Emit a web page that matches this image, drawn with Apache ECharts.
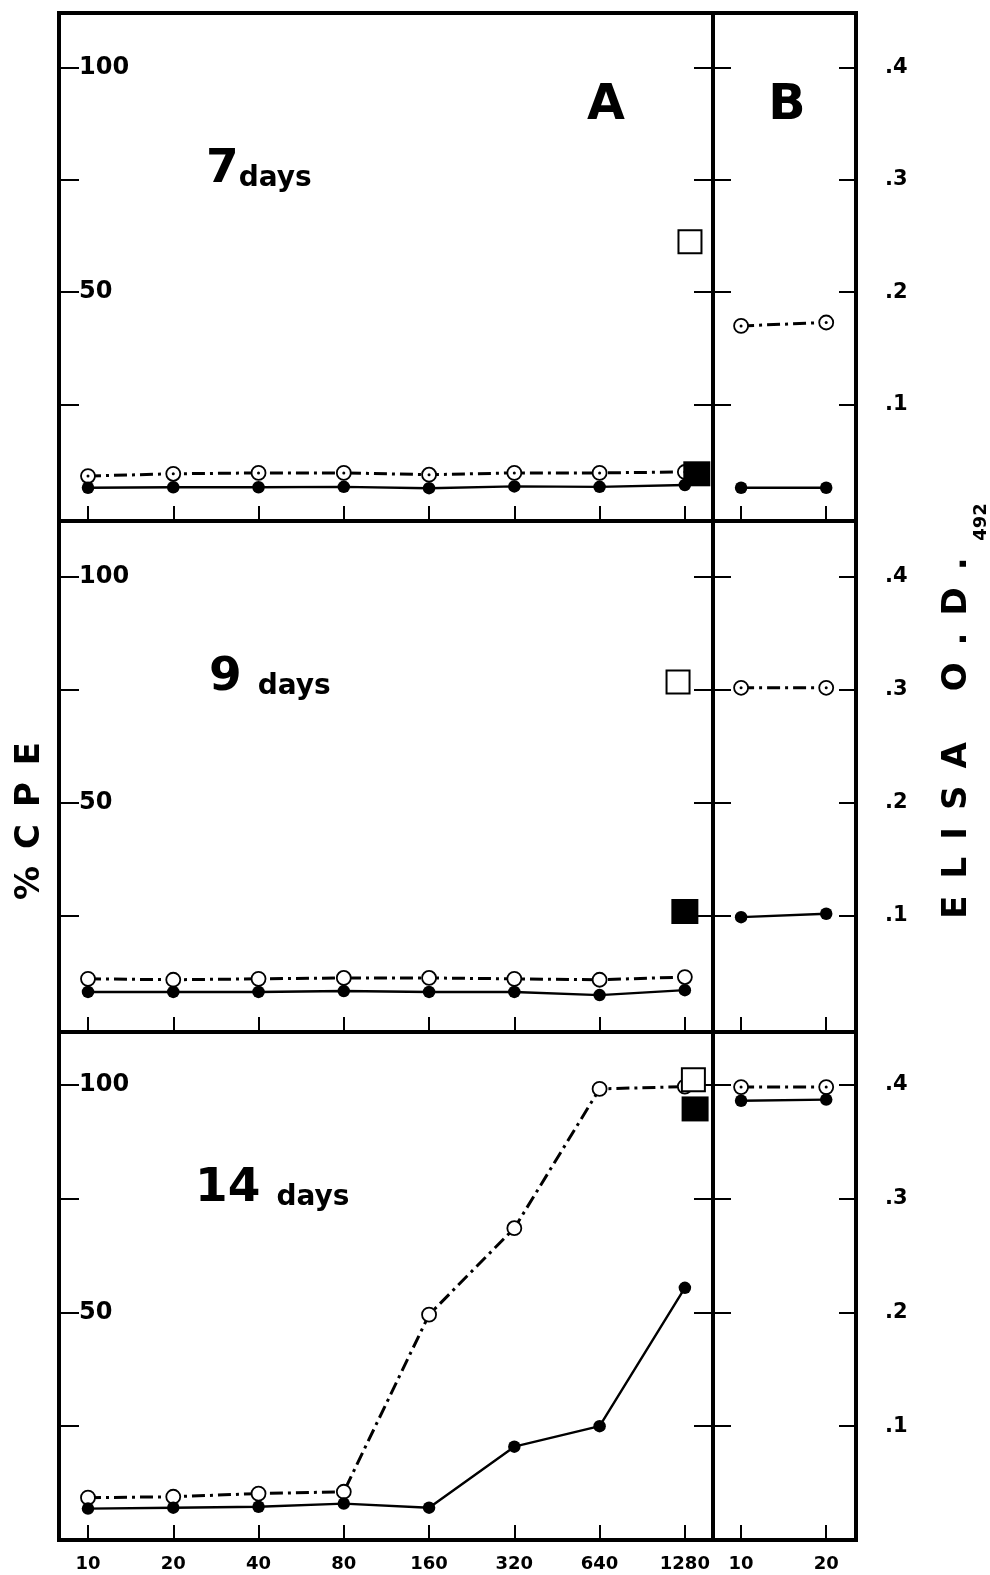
<!DOCTYPE html>
<html>
<head>
<meta charset="utf-8">
<script src="https://cdn.jsdelivr.net/npm/echarts@6/dist/echarts.min.js"></script>
<style>
  html, body { margin: 0; padding: 0; background: #fff; }
  #chart { width: 990px; height: 1575px; }
</style>
</head>
<body>
<div id="chart"></div>
<script>
// categories (serum dilutions) for panel A and panel B
var dilutions = ['10', '20', '40', '80', '160', '320', '640', '1280'];
var elisaDilutions = ['10', '20'];
var cpeTicks = [25, 50, 75, 100];
var cpeLabels = [50, 100];
var odTicks = [0.1, 0.2, 0.3, 0.4];

// 7 days
var cpeOpen7 = [9.1, 9.6, 9.8, 9.8, 9.4, 9.8, 9.8, 10.0];
var cpeFilled7 = [6.5, 6.6, 6.6, 6.7, 6.4, 6.8, 6.7, 7.1];
var squareOpen7 = [7.06, 61.2];   // [dilution index, %CPE]
var squareFilled7 = [7.14, 9.6];
var odOpen7 = [0.170, 0.173];
var odFilled7 = [0.026, 0.026];

// 9 days
var cpeOpen9 = [11.1, 10.9, 11.1, 11.3, 11.3, 11.1, 10.9, 11.5];
var cpeFilled9 = [8.2, 8.2, 8.2, 8.4, 8.2, 8.2, 7.5, 8.6];
var squareOpen9 = [6.92, 76.8];
var squareFilled9 = [7.0, 26.0];
var odOpen9 = [0.302, 0.302];
var odFilled9 = [0.099, 0.102];

// 14 days
var cpeOpen14 = [9.3, 9.5, 10.2, 10.6, 49.5, 68.5, 99.1, 99.6];
var cpeFilled14 = [6.9, 7.1, 7.3, 8.0, 7.1, 20.5, 25.0, 55.4];
var squareOpen14 = [7.1, 101.1];
var squareFilled14 = [7.12, 94.7];
var odOpen14 = [0.398, 0.398];
var odFilled14 = [0.386, 0.387];

var panels = [
  { title: '{n|7}{d|days}', cpeOpen: cpeOpen7, cpeFilled: cpeFilled7, sqOpen: squareOpen7, sqFilled: squareFilled7, odOpen: odOpen7, odFilled: odFilled7, dotsA: true },
  { title: '{n|9}{sp| }{d|days}', cpeOpen: cpeOpen9, cpeFilled: cpeFilled9, sqOpen: squareOpen9, sqFilled: squareFilled9, odOpen: odOpen9, odFilled: odFilled9, dotsA: false },
  { title: '{n|14}{sp| }{d|days}', cpeOpen: cpeOpen14, cpeFilled: cpeFilled14, sqOpen: squareOpen14, sqFilled: squareFilled14, odOpen: odOpen14, odFilled: odFilled14, dotsA: false }
];

// layout of the three rows
var rows = [
  { top: 13, height: 508, min: -0.9, max: 112.1, titleX: 206, titleY: 194 },
  { top: 521, height: 511, min: -0.66, max: 112.4, titleX: 209, titleY: 702 },
  { top: 1032, height: 508, min: 0, max: 111.6, titleX: 195, titleY: 1213 }
];

var INK = '#000';
var FONT = '"DejaVu Sans", sans-serif';
var idx = [0, 1, 2, 3, 4, 5, 6, 7];

var grid = [], xAxis = [], yAxis = [], series = [];
var noLine = { show: false, onZero: false };

rows.forEach(function (r, i) {
  var last = i === rows.length - 1;
  var border = { show: true, borderColor: INK, borderWidth: 4, backgroundColor: 'transparent' };
  grid.push(Object.assign({ left: 59, width: 654, top: r.top, height: r.height }, border));
  grid.push(Object.assign({ left: 713, width: 143, top: r.top, height: r.height }, border));

  var tickStyle = { color: INK, width: 2 };
  var labelStyle = { color: INK, fontFamily: FONT, fontWeight: 'bold' };

  // panel A x axis
  xAxis.push({
    type: 'value', gridIndex: 2 * i, min: -0.34, max: 7.33, position: 'bottom',
    axisLine: noLine, splitLine: { show: false },
    axisTick: { show: true, inside: true, length: 15, customValues: idx, lineStyle: tickStyle },
    axisLabel: Object.assign({
      show: last, customValues: idx, margin: 15, fontSize: 18,
      formatter: function (v) { return dilutions[Math.round(v)]; }
    }, labelStyle)
  });
  // panel B x axis
  xAxis.push({
    type: 'value', gridIndex: 2 * i + 1, min: -0.33, max: 1.35, position: 'bottom',
    axisLine: noLine, splitLine: { show: false },
    axisTick: { show: true, inside: true, length: 15, customValues: [0, 1], lineStyle: tickStyle },
    axisLabel: Object.assign({
      show: last, customValues: [0, 1], margin: 15, fontSize: 18,
      formatter: function (v) { return elisaDilutions[Math.round(v)]; }
    }, labelStyle)
  });

  var odMin = r.min / 250, odMax = r.max / 250;
  // A left (%CPE)
  yAxis.push({
    type: 'value', gridIndex: 2 * i, position: 'left', min: r.min, max: r.max,
    axisLine: noLine, splitLine: { show: false },
    axisTick: { show: true, inside: true, length: 20, customValues: cpeTicks, lineStyle: tickStyle },
    axisLabel: Object.assign({
      inside: true, margin: 20, fontSize: 24, customValues: cpeLabels,
      padding: [0, 0, 12, 0]
    }, labelStyle)
  });
  // A right (ticks on divider)
  yAxis.push({
    type: 'value', gridIndex: 2 * i, position: 'right', min: r.min, max: r.max,
    axisLine: noLine, splitLine: { show: false },
    axisTick: { show: true, inside: true, length: 19, customValues: cpeTicks, lineStyle: tickStyle },
    axisLabel: { show: false }
  });
  // B left (ticks on divider)
  yAxis.push({
    type: 'value', gridIndex: 2 * i + 1, position: 'left', min: odMin, max: odMax,
    axisLine: noLine, splitLine: { show: false },
    axisTick: { show: true, inside: true, length: 18, customValues: odTicks, lineStyle: tickStyle },
    axisLabel: { show: false }
  });
  // B right (ELISA OD)
  yAxis.push({
    type: 'value', gridIndex: 2 * i + 1, position: 'right', min: odMin, max: odMax,
    axisLine: noLine, splitLine: { show: false },
    axisTick: { show: true, inside: true, length: 17, customValues: odTicks, lineStyle: tickStyle },
    axisLabel: Object.assign({
      margin: 29, fontSize: 21, customValues: odTicks, padding: [0, 0, 18, 0],
      formatter: function (v) { return '.' + Math.round(v * 10); }
    }, labelStyle)
  });

  var p = panels[i];
  var ax = 2 * i, bx = 2 * i + 1, ay = 4 * i, by = 4 * i + 3;
  var openA = p.cpeOpen.map(function (v, k) { return [k, v]; });
  var filledA = p.cpeFilled.map(function (v, k) { return [k, v]; });
  var openB = p.odOpen.map(function (v, k) { return [k, v]; });
  var filledB = p.odFilled.map(function (v, k) { return [k, v]; });

  var openStyle = {
    type: 'line', symbol: 'circle', symbolSize: 14, clip: false,
    itemStyle: { color: '#fff', borderColor: INK, borderWidth: 1.8, opacity: 1 },
    lineStyle: { color: INK, width: 3, type: [13, 5, 3, 5] }, z: 3
  };
  var filledStyle = {
    type: 'line', symbol: 'circle', symbolSize: 12.5, clip: false,
    itemStyle: { color: INK, opacity: 1 },
    lineStyle: { color: INK, width: 2.4 }, z: 4
  };
  series.push(Object.assign({ xAxisIndex: ax, yAxisIndex: ay, data: openA }, openStyle));
  series.push(Object.assign({ xAxisIndex: ax, yAxisIndex: ay, data: filledA }, filledStyle));
  series.push(Object.assign({ xAxisIndex: bx, yAxisIndex: by, data: openB }, openStyle));
  series.push(Object.assign({ xAxisIndex: bx, yAxisIndex: by, data: filledB }, filledStyle));

  // centre dots of the dotted open circles
  series.push({
    type: 'scatter', xAxisIndex: bx, yAxisIndex: by, data: openB, symbol: 'circle',
    symbolSize: 3, itemStyle: { color: INK, opacity: 1 }, z: 5, clip: false
  });
  if (p.dotsA) {
    series.push({
      type: 'scatter', xAxisIndex: ax, yAxisIndex: ay, data: openA, symbol: 'circle',
      symbolSize: 3, itemStyle: { color: INK, opacity: 1 }, z: 5, clip: false
    });
  }

  // control squares
  series.push({
    type: 'scatter', xAxisIndex: ax, yAxisIndex: ay, data: [p.sqOpen], symbol: 'rect',
    symbolSize: 23, itemStyle: { color: '#fff', borderColor: INK, borderWidth: 2, opacity: 1 }, z: 6, clip: false
  });
  series.push({
    type: 'scatter', xAxisIndex: ax, yAxisIndex: ay, data: [p.sqFilled], symbol: 'rect',
    symbolSize: [27, 25], itemStyle: { color: INK, opacity: 1 }, z: 6, clip: false
  });
});

var graphic = [];
rows.forEach(function (r, i) {
  graphic.push({
    type: 'text', left: r.titleX, top: r.titleY - 48,
    style: {
      text: panels[i].title, fill: INK,
      rich: {
        n: { fontSize: 47, fontWeight: 'bold', fontFamily: FONT, fill: INK, verticalAlign: 'bottom', lineHeight: 50 },
        d: { fontSize: 28, fontWeight: 'bold', fontFamily: FONT, fill: INK, verticalAlign: 'bottom', lineHeight: 40 },
        sp: { width: 16, fontSize: 10 }
      }
    }
  });
});
graphic.push(
  { type: 'text', x: 606, y: 106, style: { text: 'A', fill: INK, font: 'bold 49px ' + FONT, align: 'center', verticalAlign: 'middle' } },
  { type: 'text', x: 787, y: 106, style: { text: 'B', fill: INK, font: 'bold 49px ' + FONT, align: 'center', verticalAlign: 'middle' } },
  { type: 'text', x: 30, y: 821, rotation: Math.PI / 2,
    style: { text: '%\u2002C\u2002P\u2002E', fill: INK, font: 'bold 34px ' + FONT, align: 'center', verticalAlign: 'middle' } },
  { type: 'text', x: 957, y: 738, rotation: Math.PI / 2,
    style: { text: 'E\u2002L\u2002I\u2002S\u2002A\u2002\u2002\u2002O\u2002.\u2002D\u2002.', fill: INK, font: 'bold 34px ' + FONT, align: 'center', verticalAlign: 'middle' } },
  { type: 'text', x: 981, y: 522, rotation: Math.PI / 2,
    style: { text: '492', fill: INK, font: 'bold 18px ' + FONT, align: 'center', verticalAlign: 'middle' } }
);

var chart = echarts.init(document.getElementById('chart'), null, { renderer: 'canvas' });
chart.setOption({
  backgroundColor: '#fff',
  animation: false,
  grid: grid,
  xAxis: xAxis,
  yAxis: yAxis,
  series: series,
  graphic: graphic
});
</script>
</body>
</html>
